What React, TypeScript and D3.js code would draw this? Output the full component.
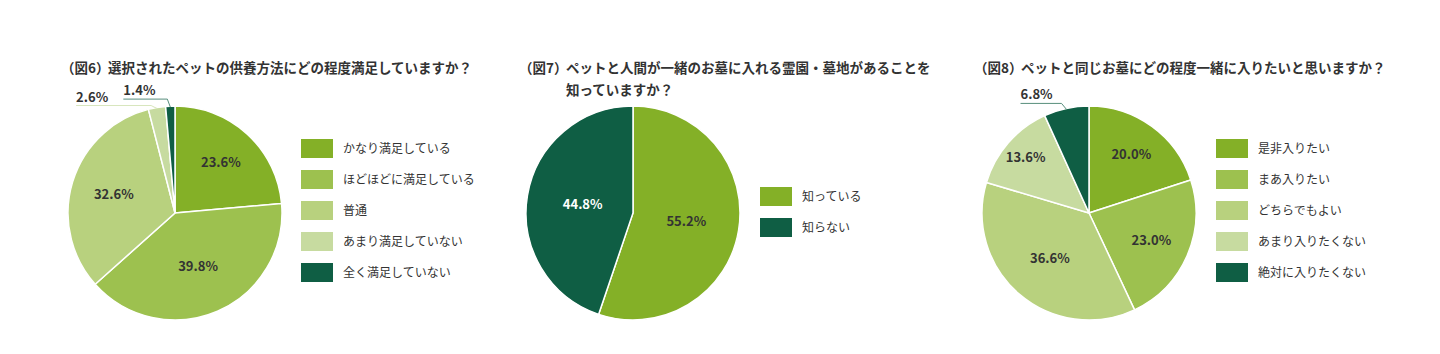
import * as d3 from 'd3';

// 図6
const fig6Num = '（図6）';
const fig6Title = ['選択されたペットの供養方法にどの程度満足していますか？'];
const fig6Labels = ['かなり満足している', 'ほどほどに満足している', '普通', 'あまり満足していない', '全く満足していない'];
const fig6Values = [23.6, 39.8, 32.6, 2.6, 1.4];

// 図7
const fig7Num = '（図7）';
const fig7Title = ['ペットと人間が一緒のお墓に入れる霊園・墓地があることを', '知っていますか？'];
const fig7Labels = ['知っている', '知らない'];
const fig7Values = [55.2, 44.8];

// 図8
const fig8Num = '（図8）';
const fig8Title = ['ペットと同じお墓にどの程度一緒に入りたいと思いますか？'];
const fig8Labels = ['是非入りたい', 'まあ入りたい', 'どちらでもよい', 'あまり入りたくない', '絶対に入りたくない'];
const fig8Values = [20.0, 23.0, 36.6, 13.6, 6.8];

const palette5 = ['#84b027', '#9dc14f', '#b8d17e', '#c7dba0', '#0f5e44'];
const palette2 = ['#84b027', '#0f5e44'];

const FONT = '"Noto Sans CJK JP", "Noto Sans", sans-serif';
const TEXT = '#333';
const R = 107;

interface OuterLabel { index: number; dx: number; dy: number; len: number; }

interface PieProps {
  num: string;
  title: string[];
  labels: string[];
  values: number[];
  colors: string[];
  x: number; // title left
  cx: number;
  cy: number;
  labelR: number[];
  legendX: number;
  legendY: number;
  outer: OuterLabel[];
}

const PieChart = ({ num, title, labels, values, colors, x, cx, cy, labelR, legendX, legendY, outer }: PieProps) => {
  const pie = d3.pie<number>().sort(null).value(d => d);
  const arcs = pie(values);
  const arc = d3.arc<d3.PieArcDatum<number>>().innerRadius(0).outerRadius(R);
  const color = d3.scaleOrdinal<number, string>().domain(values.map((_, i) => i)).range(colors);
  const legendY0 = d3.scaleBand<number>()
    .domain(labels.map((_, i) => i))
    .range([legendY, legendY + labels.length * 31]);
  const outerIdx = new Set(outer.map(o => o.index));
  // dark slices get white labels
  const labelFill = (c: string) => (d3.hsl(c).l < 0.3 ? '#fff' : TEXT);

  return (
    <g>
      <text x={x} y={73} fontSize={13.5} fontWeight="bold" fill={TEXT} fontFamily={FONT}>
        {num}
      </text>
      {title.map((t, i) => (
        <text key={i} x={x + 47} y={73 + i * 22} fontSize={13.5} fontWeight="bold" fill={TEXT} fontFamily={FONT}>
          {t}
        </text>
      ))}
      <g transform={`translate(${cx},${cy})`}>
        {arcs.map((a, i) => (
          <path key={i} d={arc(a) || ''} fill={color(i)} stroke="#fff" strokeWidth={1.5} />
        ))}
        {arcs.map((a, i) => {
          if (outerIdx.has(i)) return null;
          const c = d3.arc<d3.PieArcDatum<number>>().innerRadius(labelR[i]).outerRadius(labelR[i]).centroid(a);
          return (
            <text key={i} x={c[0]} y={c[1]} dy="0.35em" textAnchor="middle" fontSize={13} fontWeight="bold"
              fill={labelFill(color(i))} fontFamily={FONT}>
              {values[i].toFixed(1)}%
            </text>
          );
        })}
        {outer.map(o => {
          const a = arcs[o.index];
          const mid = (a.startAngle + a.endAngle) / 2;
          const px = Math.sin(mid) * (R - 1);
          const py = -Math.cos(mid) * (R - 1);
          const ex = px - o.dx;
          const ey = py - o.dy;
          const line = d3.line()([[px, py], [ex, ey], [ex - o.len, ey]]) || '';
          const lc = d3.interpolateRgb(color(o.index), '#fff')(0.3);
          return (
            <g key={o.index}>
              <path d={line} fill="none" stroke={lc} strokeWidth={1} />
              <text x={ex - o.len} y={ey - 4} fontSize={13} fontWeight="bold" fill={TEXT} fontFamily={FONT}>
                {values[o.index].toFixed(1)}%
              </text>
            </g>
          );
        })}
      </g>
      {labels.map((l, i) => (
        <g key={l}>
          <rect x={legendX} y={legendY0(i)} width={32} height={19} fill={color(i)} />
          <text x={legendX + 42} y={(legendY0(i) || 0) + 9.5} dy="0.35em" fontSize={12} fill={TEXT} fontFamily={FONT}>
            {l}
          </text>
        </g>
      ))}
    </g>
  );
};

const App = () => (
  <svg width={1440} height={354} style={{ position: 'absolute', left: 0, top: 0, background: '#fff' }}>
    <PieChart num={fig6Num} title={fig6Title} labels={fig6Labels} values={fig6Values} colors={palette5}
      x={61} cx={175} cy={213} labelR={[68, 58, 64, 64, 64]} legendX={301} legendY={139}
      outer={[{ index: 3, dx: 6, dy: 3, len: 75 }, { index: 4, dx: 3, dy: 8, len: 44 }]} />
    <PieChart num={fig7Num} title={fig7Title} labels={fig7Labels} values={fig7Values} colors={palette2}
      x={519} cx={633} cy={213} labelR={[54, 51]} legendX={760} legendY={187}
      outer={[]} />
    <PieChart num={fig8Num} title={fig8Title} labels={fig8Labels} values={fig8Values} colors={palette5}
      x={974} cx={1089} cy={213} labelR={[72, 68, 60, 84, 64]} legendX={1216} legendY={139}
      outer={[{ index: 4, dx: 5, dy: 6, len: 41 }]} />
  </svg>
);

export default App;
